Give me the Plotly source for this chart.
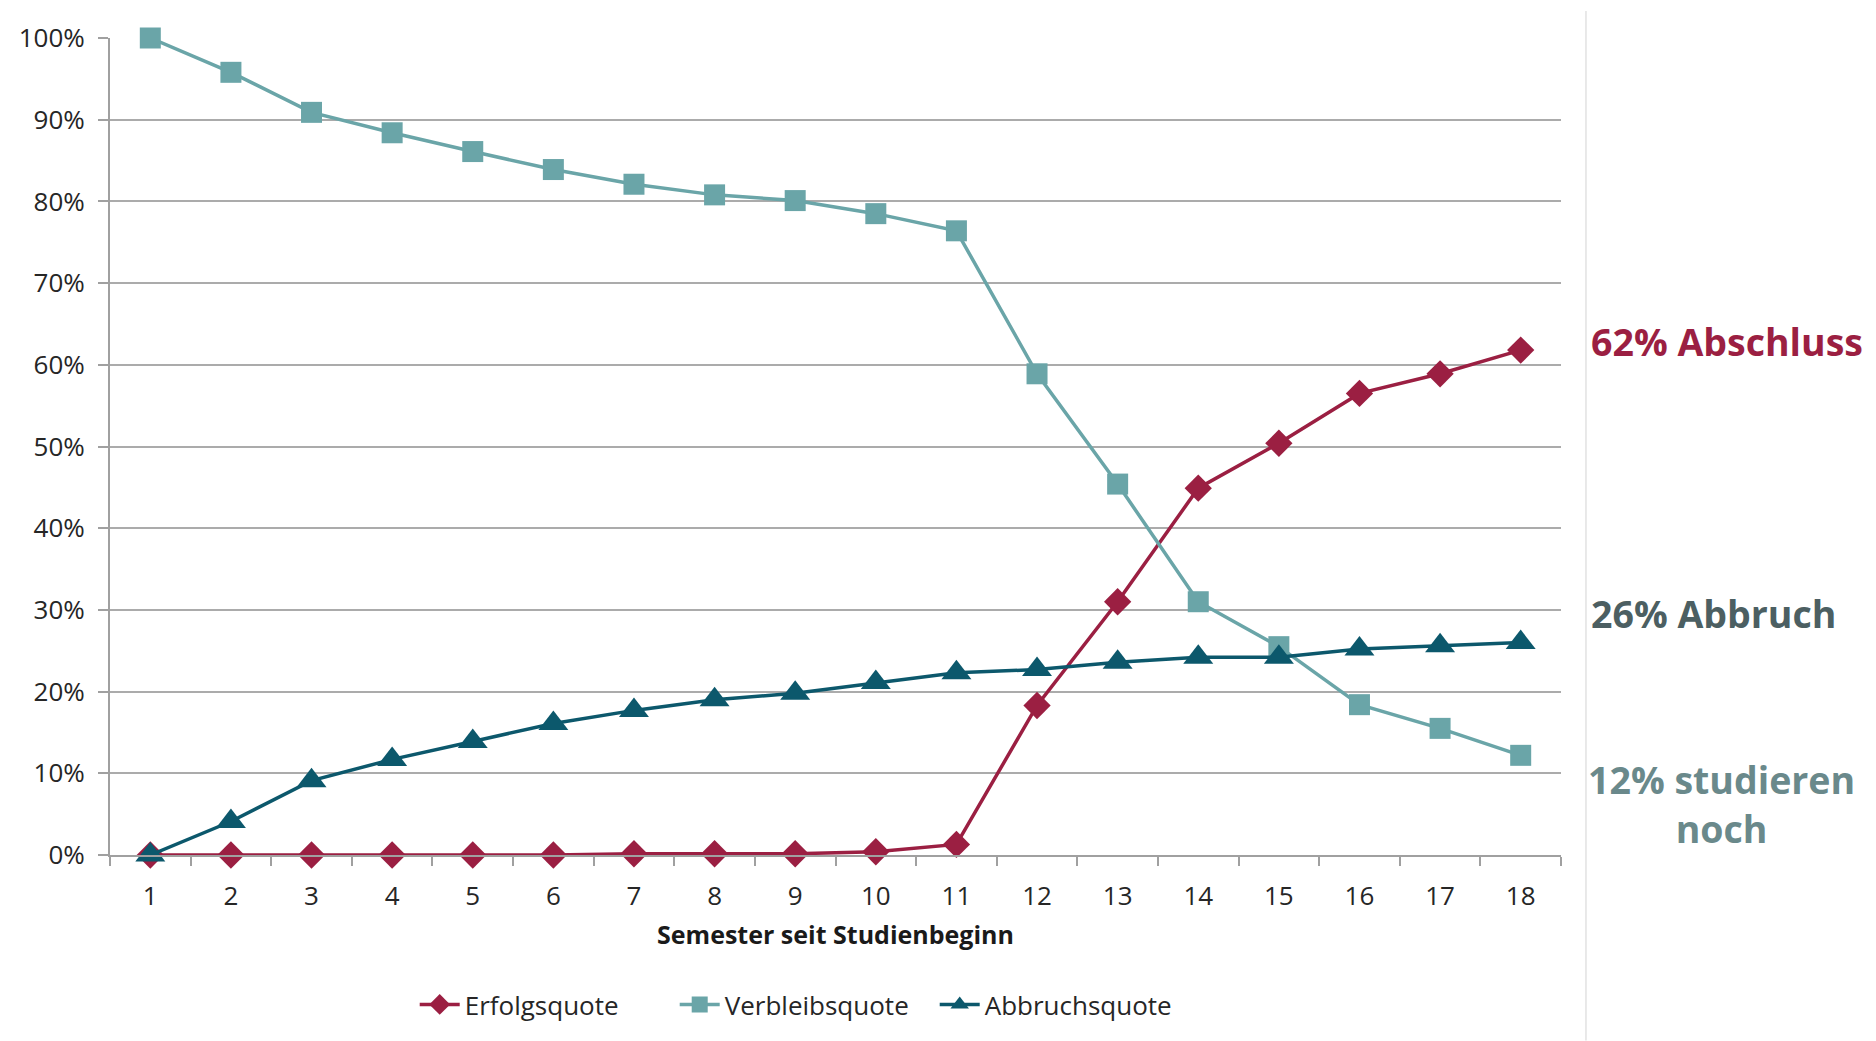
import plotly.graph_objects as go

# Semester index since start of studies
semester = list(range(1, 19))
tick_labels = [str(s) for s in semester]

# Cohort shares in percent
erfolgsquote = [0, 0, 0, 0, 0, 0, 0.15, 0.15, 0.15, 0.4, 1.3, 18.3, 31.0, 44.9, 50.4, 56.5, 58.9, 61.8]
verbleibsquote = [100, 95.8, 90.9, 88.4, 86.1, 83.9, 82.1, 80.8, 80.1, 78.5, 76.4, 58.9, 45.4, 31.0, 25.5, 18.4, 15.5, 12.2]
abbruchsquote = [0, 4.1, 9.1, 11.7, 13.9, 16.1, 17.7, 19.0, 19.8, 21.1, 22.3, 22.7, 23.6, 24.2, 24.2, 25.2, 25.6, 26.0]

series_names = ["Erfolgsquote", "Verbleibsquote", "Abbruchsquote"]
end_labels = ["62% Abschluss", "26% Abbruch", "12% studieren<br>noch"]

RED = "#9B1F42"
TEAL_LIGHT = "#6AA5A8"
TEAL_DARK = "#0C586C"
FONT = "Open Sans"

fig = go.Figure()
styles = [
    (erfolgsquote, RED, "diamond", 21),
    (verbleibsquote, TEAL_LIGHT, "square", 21),
    (abbruchsquote, TEAL_DARK, "triangle-up", 26),
]
for name, (vals, color, symbol, size) in zip(series_names, styles):
    fig.add_trace(go.Scatter(
        x=semester, y=[v / 100 for v in vals], name=name,
        mode="lines+markers",
        line=dict(color=color, width=3.5),
        marker=dict(symbol=symbol, size=size, color=color),
        cliponaxis=False,
    ))

fig.update_layout(
    width=1876, height=1041,
    margin=dict(l=110, r=315, t=38, b=186),
    paper_bgcolor="white", plot_bgcolor="white",
    font=dict(family=FONT, size=26, color="#262626"),
    showlegend=True,
    legend=dict(
        orientation="h", x=0.21, xanchor="left", y=-0.183, yanchor="middle",
        font=dict(size=26, color="#262626"), itemwidth=40, tracegroupgap=0,
        entrywidth=205, entrywidthmode="pixels",
    ),
)

fig.update_xaxes(
    range=[0.5, 18.5], tickmode="array", tickvals=semester, ticktext=tick_labels,
    ticks="", showgrid=False, zeroline=False,
    showline=True, linecolor="#A0A0A0", linewidth=2,
    minor=dict(ticks="outside", tick0=0.5, dtick=1, ticklen=9, tickcolor="#A0A0A0", tickwidth=2, showgrid=False),
    ticklabelstandoff=17,
    title=dict(text="<b>Semester seit Studienbeginn</b>", font=dict(size=25, color="#1a1a1a"), standoff=14),
)
fig.update_yaxes(
    range=[0, 1], tickformat=".0%", dtick=0.1,
    ticks="outside", ticklen=10, tickcolor="#A0A0A0", tickwidth=2,
    showgrid=True, gridcolor="#ABABAB", gridwidth=2, zeroline=False,
    showline=True, linecolor="#A0A0A0", linewidth=2,
    ticklabelstandoff=8,
)

# Separator line to the right of the plot
fig.add_shape(type="line", xref="paper", yref="paper", x0=1.0172, x1=1.0172,
              y0=-0.227, y1=1.033, line=dict(color="#E2E2E2", width=1.5))

# End-of-series labels
label_styles = [
    (1.0193, 0.628, RED, "left"),
    (1.0193, 0.295, "#4C5F62", "left"),
    (1.1107, 0.062, "#6A898B", "center"),
]
for text, (x, y, color, anchor) in zip(end_labels, label_styles):
    fig.add_annotation(
        xref="paper", yref="paper", x=x, y=y, xanchor=anchor, yanchor="middle",
        text=f"<b>{text}</b>", showarrow=False, align="center",
        font=dict(family=FONT, size=37.5, color=color),
    )

fig.write_html("out.html")
